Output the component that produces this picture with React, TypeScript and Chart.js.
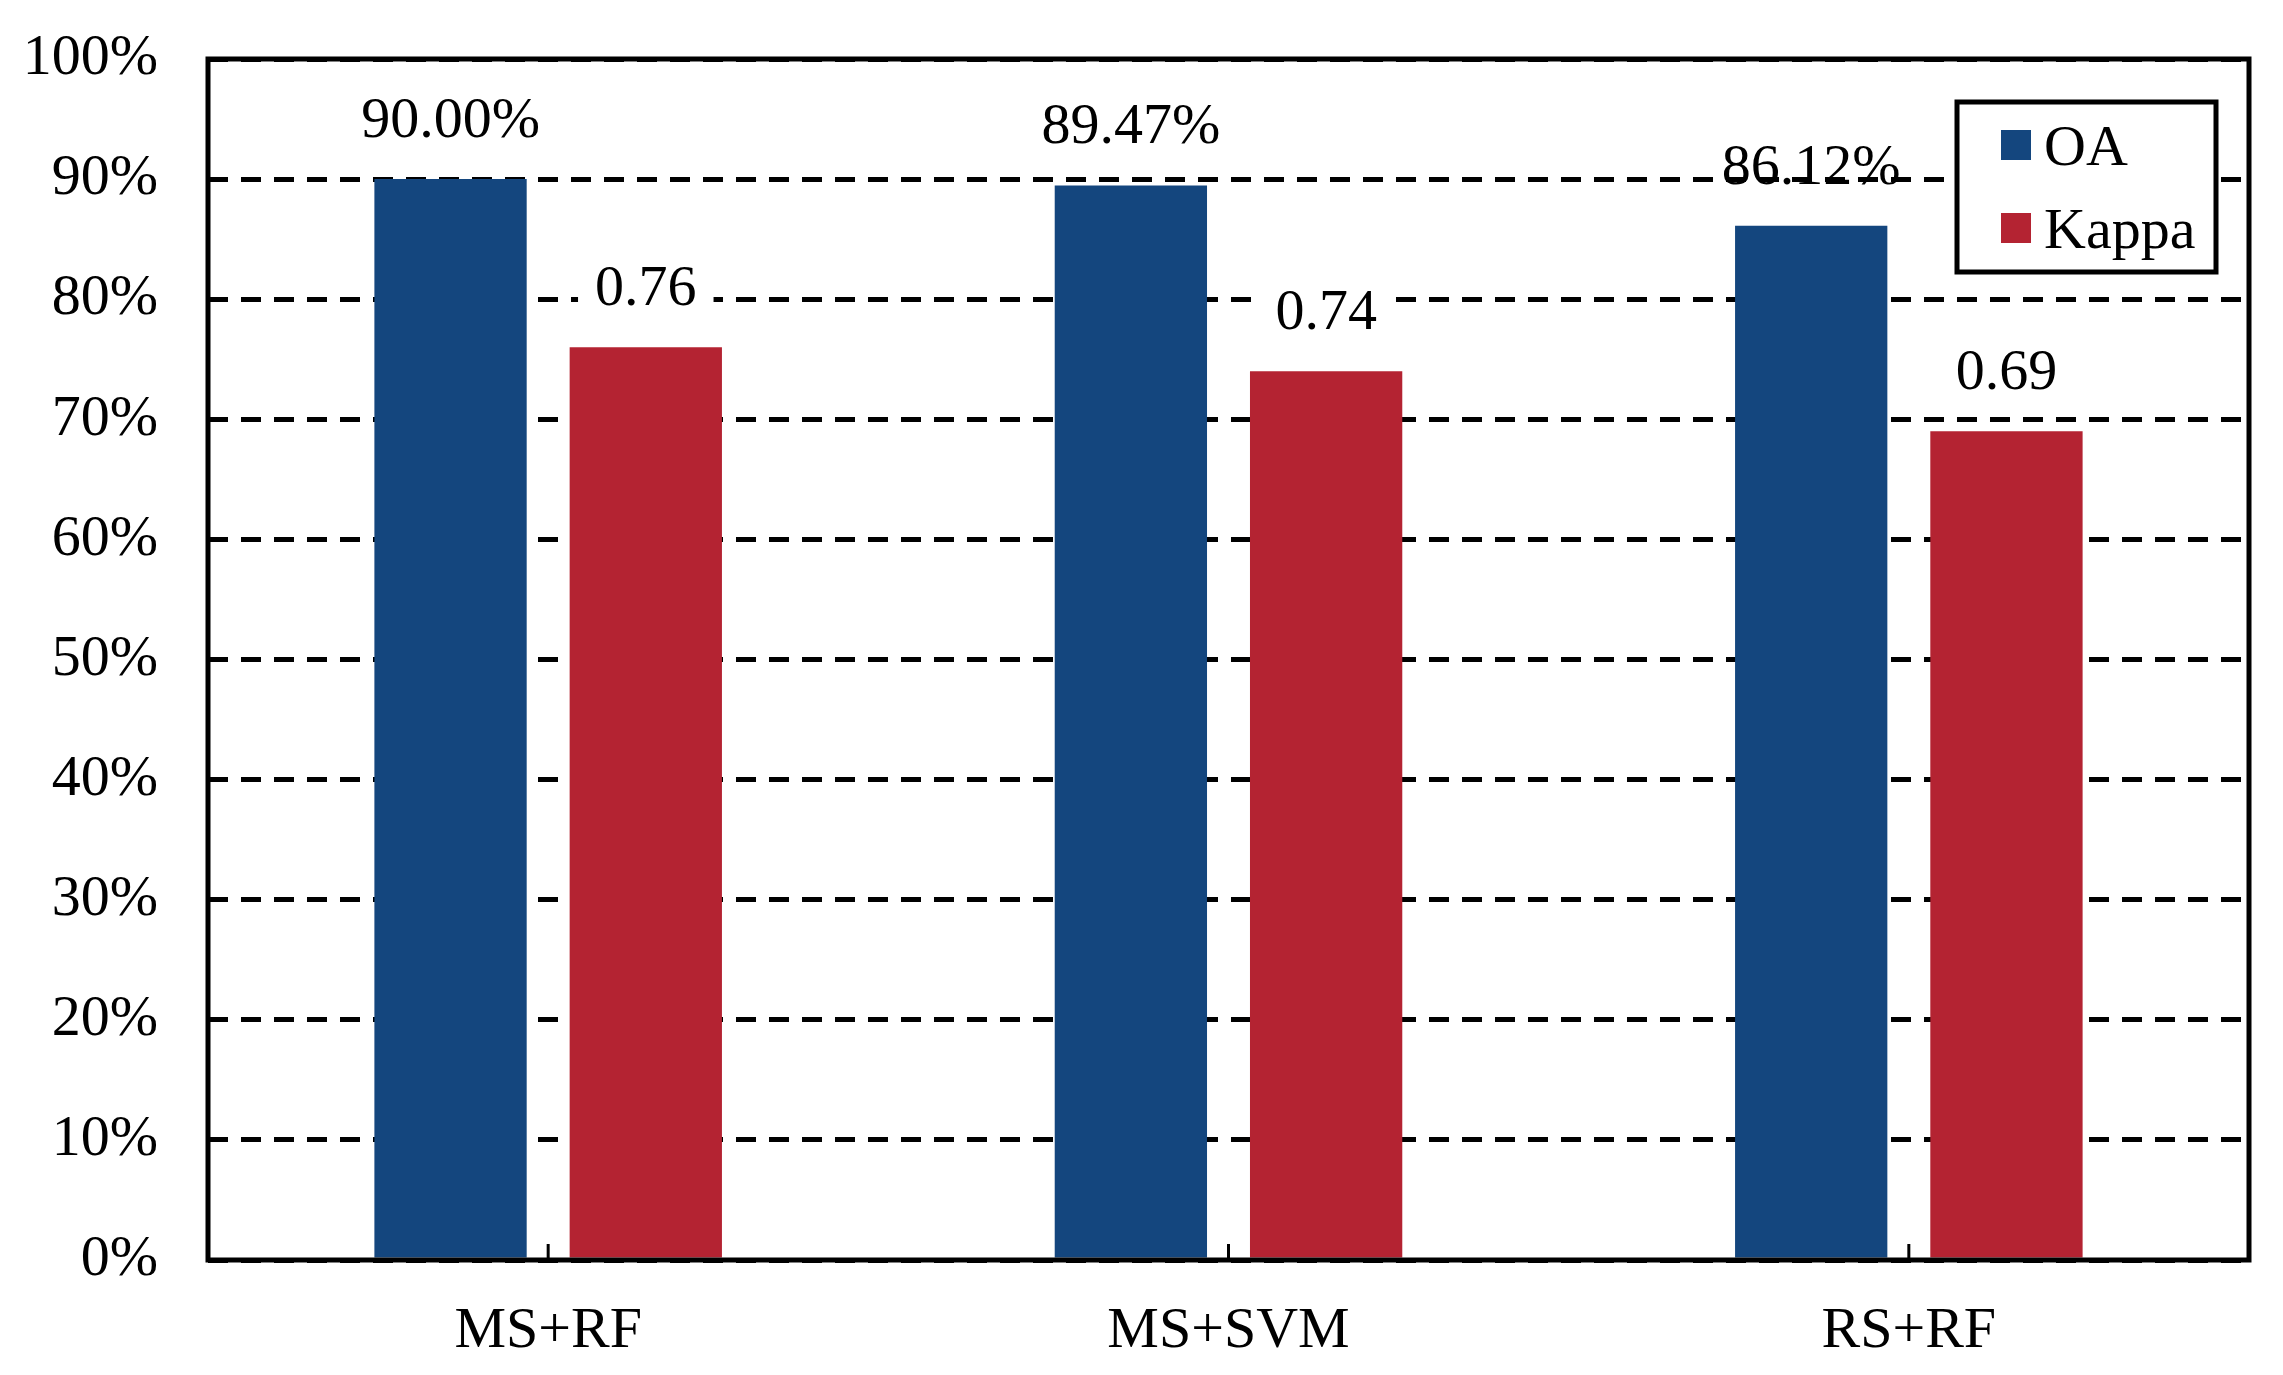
import React, { useEffect, useRef } from "react";
import { Chart, registerables } from "chart.js";

Chart.register(...registerables);

const categories = ["MS+RF", "MS+SVM", "RS+RF"];
const oaValues = [90.0, 89.47, 86.12];
const kappaValues = [0.76, 0.74, 0.69];
const seriesNames = ["OA", "Kappa"];
const seriesColors = ["#14467E", "#B42332"];
const yMin = 0;
const yMax = 100;
const yStep = 10;

const FONT = '"Liberation Serif", "Times New Roman", serif';
const FONT_SIZE = 58;

const decorPlugin = {
  id: "decor",
  afterDatasetsDraw(chart: any) {
    const { ctx } = chart;
    ctx.save();
    ctx.font = `${FONT_SIZE}px ${FONT}`;
    ctx.textAlign = "center";
    ctx.textBaseline = "alphabetic";
    chart.data.datasets.forEach((_ds: any, di: number) => {
      const meta = chart.getDatasetMeta(di);
      meta.data.forEach((bar: any, i: number) => {
        const text =
          di === 0 ? oaValues[i].toFixed(2) + "%" : kappaValues[i].toFixed(2);
        const x = bar.x;
        const y = bar.y - 42;
        if (di === 1) {
          const w = ctx.measureText(text).width;
          ctx.fillStyle = "#ffffff";
          ctx.fillRect(x - w / 2 - 17, y - 48, w + 34, 56);
        }
        ctx.fillStyle = "#000000";
        ctx.fillText(text, x, y);
      });
    });
    ctx.restore();
  },
  afterDraw(chart: any) {
    const { ctx, chartArea: a, scales } = chart;
    ctx.save();
    // frame
    ctx.strokeStyle = "#000000";
    ctx.lineWidth = 5;
    ctx.setLineDash([]);
    ctx.strokeRect(a.left, a.top, a.right - a.left, a.bottom - a.top);
    // inward category ticks
    ctx.lineWidth = 3;
    const xs = scales.x;
    for (let i = 0; i < categories.length; i++) {
      const px = xs.getPixelForTick(i);
      ctx.beginPath();
      ctx.moveTo(px, a.bottom);
      ctx.lineTo(px, a.bottom - 16);
      ctx.stroke();
    }
    // legend
    const bx = a.right - 292;
    const by = a.top + 43;
    const bw = 259;
    const bh = 170;
    ctx.fillStyle = "#ffffff";
    ctx.fillRect(bx, by, bw, bh);
    ctx.lineWidth = 5;
    ctx.strokeStyle = "#000000";
    ctx.strokeRect(bx, by, bw, bh);
    ctx.font = `${FONT_SIZE}px ${FONT}`;
    ctx.textAlign = "left";
    ctx.textBaseline = "alphabetic";
    seriesNames.forEach((name, i) => {
      const sy = by + 28 + i * 83;
      ctx.fillStyle = seriesColors[i];
      ctx.fillRect(bx + 44, sy, 30, 30);
      ctx.fillStyle = "#000000";
      ctx.fillText(name, bx + 87, sy + 35);
    });
    ctx.restore();
  },
};

export default function App() {
  const canvasRef = useRef<HTMLCanvasElement | null>(null);

  useEffect(() => {
    if (!canvasRef.current) return;
    const chart = new Chart(canvasRef.current, {
      type: "bar",
      data: {
        labels: categories,
        datasets: [
          {
            label: seriesNames[0],
            data: oaValues,
            backgroundColor: seriesColors[0],
            categoryPercentage: 0.574,
            barPercentage: 0.78,
          },
          {
            label: seriesNames[1],
            data: kappaValues.map((v) => v * 100),
            backgroundColor: seriesColors[1],
            categoryPercentage: 0.574,
            barPercentage: 0.78,
          },
        ],
      },
      options: {
        animation: false,
        responsive: true,
        maintainAspectRatio: false,
        devicePixelRatio: 1,
        layout: { padding: { left: 0, right: 34, top: 59, bottom: 0 } },
        plugins: {
          legend: { display: false },
          tooltip: { enabled: false },
          title: { display: false },
        },
        scales: {
          x: {
            grid: { display: false, drawTicks: false },
            border: { display: false },
            ticks: {
              color: "#000000",
              padding: 37,
              font: { family: FONT, size: FONT_SIZE },
              maxRotation: 0,
            },
            afterFit(scale: any) {
              scale.height = 115;
              scale.paddingLeft = 0;
              scale.paddingRight = 0;
            },
          },
          y: {
            min: yMin,
            max: yMax,
            grid: {
              color: "#000000",
              lineWidth: 5,
              drawTicks: false,
            },
            border: { display: false, dash: [20, 13] },
            ticks: {
              stepSize: yStep,
              color: "#000000",
              padding: 50,
              font: { family: FONT, size: FONT_SIZE },
              callback: (v: any) => `${v}%`,
            },
            afterFit(scale: any) {
              scale.width = 208;
              scale.paddingTop = 0;
              scale.paddingBottom = 0;
            },
          },
        },
      },
      plugins: [decorPlugin],
    });
    return () => chart.destroy();
  }, []);

  return (
    <div
      style={{
        position: "fixed",
        left: 0,
        top: 0,
        width: "2283px",
        height: "1375px",
        background: "#ffffff",
      }}
    >
      <canvas ref={canvasRef} />
    </div>
  );
}
